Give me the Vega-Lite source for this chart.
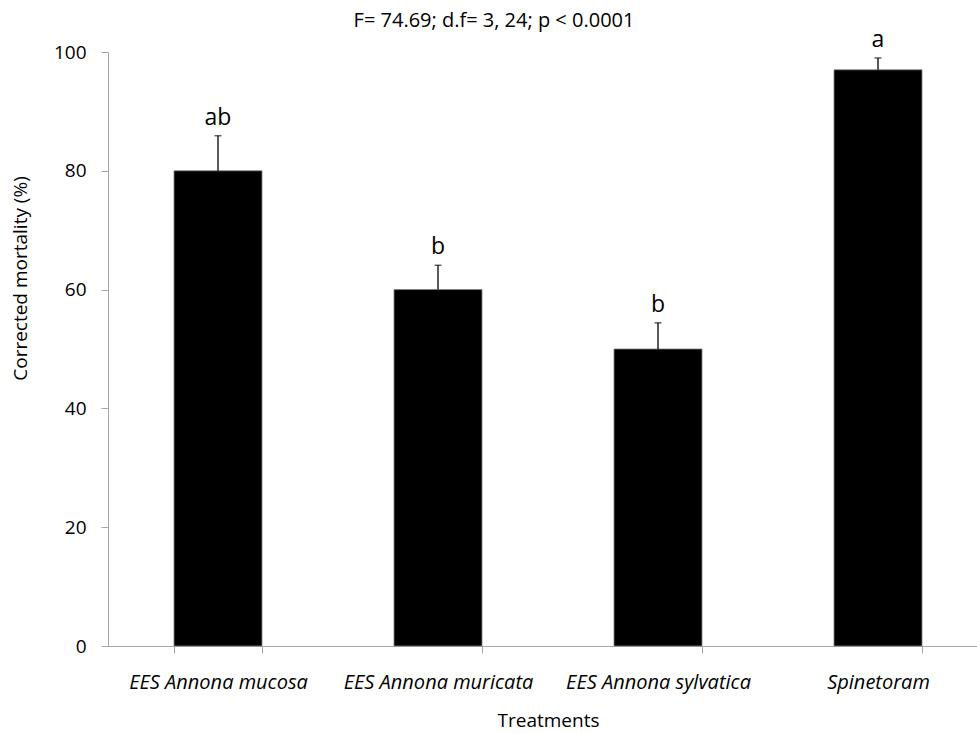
{
  "$schema": "https://vega.github.io/schema/vega-lite/v6.json",
  "autosize": {"type": "none"},
  "width": 880,
  "height": 594,
  "padding": {"left": 108, "top": 52, "right": 0, "bottom": 87},
  "background": "white",
  "title": {
    "text": "F= 74.69; d.f= 3, 24; p < 0.0001",
    "font": "Open Sans",
    "fontSize": 20,
    "fontWeight": "normal",
    "color": "black",
    "anchor": "middle",
    "frame": "group",
    "offset": -2,
    "dx": -54
  },
  "config": {
    "view": {"stroke": null},
    "font": "Open Sans"
  },
  "data": {
    "values": [
      {"treatment": "EES Annona mucosa", "mortality": 80, "upper": 85.9, "letter": "ab"},
      {"treatment": "EES Annona muricata", "mortality": 60, "upper": 64.1, "letter": "b"},
      {"treatment": "EES Annona sylvatica", "mortality": 50, "upper": 54.4, "letter": "b"},
      {"treatment": "Spinetoram", "mortality": 97, "upper": 99, "letter": "a"}
    ]
  },
  "encoding": {
    "x": {
      "field": "treatment",
      "type": "nominal",
      "sort": null,
      "scale": {"paddingInner": 0.6, "paddingOuter": 0.3},
      "axis": {
        "title": "Treatments",
        "titleFont": "Open Sans",
        "titleFontSize": 19,
        "titleFontWeight": "normal",
        "titleColor": "black",
        "titlePadding": 19,
        "labelAngle": 0,
        "labelFont": "Open Sans",
        "labelFontSize": 20,
        "labelFontStyle": "italic",
        "labelColor": "black",
        "labelPadding": 19,
        "labelLimit": 400,
        "domainColor": "#a6a6a6",
        "tickColor": "#a6a6a6",
        "tickBand": "extent",
        "tickSize": 7,
        "grid": false
      }
    }
  },
  "layer": [
    {
      "mark": {"type": "bar", "color": "black", "stroke": "#7f7f7f", "strokeWidth": 0.8},
      "encoding": {
        "y": {
          "field": "mortality",
          "type": "quantitative",
          "scale": {"domain": [0, 100]},
          "axis": {
            "title": "Corrected mortality  (%)",
            "titleFont": "Open Sans",
            "titleFontSize": 19,
            "titleFontWeight": "normal",
            "titleColor": "black",
            "titleAngle": -90,
            "titleAlign": "center",
            "titleBaseline": "middle",
            "titleX": -88,
            "titleY": 226,
            "values": [0, 20, 40, 60, 80, 100],
            "labelFont": "Open Sans",
            "labelFontSize": 19,
            "labelColor": "black",
            "labelPadding": 15,
            "domainColor": "#a6a6a6",
            "tickColor": "#a6a6a6",
            "tickSize": 7,
            "grid": false
          }
        }
      }
    },
    {
      "mark": {"type": "rule", "color": "black", "strokeWidth": 1.3},
      "encoding": {
        "y": {"field": "mortality", "type": "quantitative"},
        "y2": {"field": "upper"}
      }
    },
    {
      "mark": {"type": "tick", "color": "black", "thickness": 1.3, "size": 7},
      "encoding": {
        "y": {"field": "upper", "type": "quantitative"}
      }
    },
    {
      "mark": {"type": "text", "baseline": "bottom", "dy": -6, "fontSize": 23, "font": "Open Sans", "color": "black"},
      "encoding": {
        "y": {"field": "upper", "type": "quantitative"},
        "text": {"field": "letter"}
      }
    }
  ]
}
